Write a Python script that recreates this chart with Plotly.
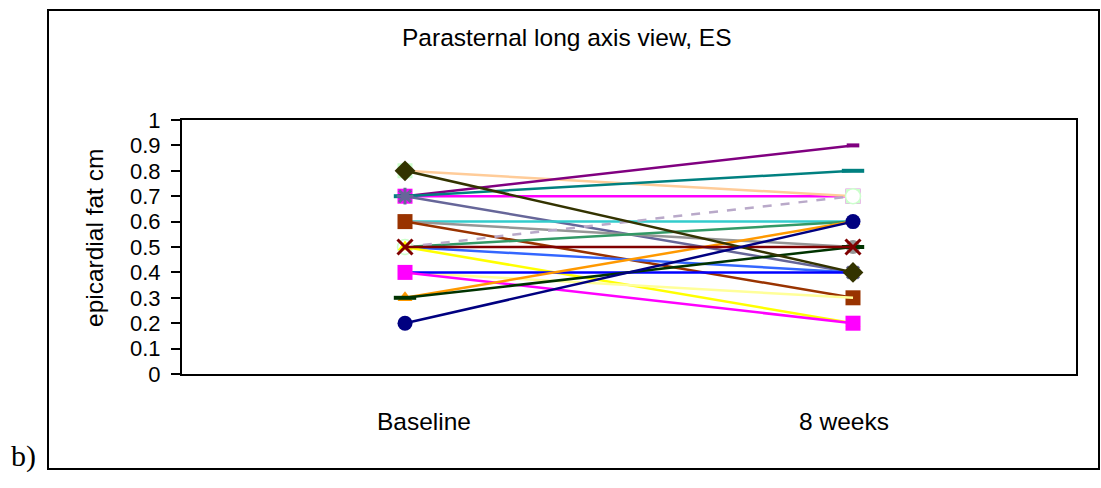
import plotly.graph_objects as go

# ---------------- data ----------------
categories = ["Baseline", "8 weeks"]

baseline = [0.7, 0.8, 0.7, 0.7, 0.7, 0.6, 0.6, 0.6, 0.5, 0.5,
            0.5, 0.5, 0.4, 0.4, 0.4, 0.3, 0.3, 0.5, 0.8, 0.2]
week8 = [0.7, 0.7, 0.9, 0.8, 0.4, 0.6, 0.5, 0.3, 0.6, 0.7,
         0.4, 0.2, 0.3, 0.4, 0.2, 0.6, 0.5, 0.5, 0.4, 0.6]
line_colors = ["#FF00FF", "#FFCC99", "#800080", "#008080", "#666699",
               "#33CCCC", "#969696", "#993300", "#339966", "#B9A9C9",
               "#3366FF", "#FFFF00", "#FFFF99", "#0000FF", "#FF00FF",
               "#FF9900", "#003300", "#800000", "#333300", "#000080"]
marker_colors = ["#FF00FF", "#CCFFCC", "#800080", "#008080", "#666699",
                 "#33CCCC", "#969696", "#993300", "#339966", "#FFFFFF",
                 "#3366FF", "#FFFF00", "#FFFF99", "#0000FF", "#FF00FF",
                 "#FF9900", "#003300", "#800000", "#333300", "#000080"]
symbols = ["square", "square", "line-ew", "line-ew", "asterisk-open",
           None, "circle", "square", None, "circle",
           None, "triangle-up", None, None, "square",
           "triangle-up", "line-ew", "x-thin-open", "diamond", "circle"]
marker_sizes = [15, 15, 9, 16, 14, 0, 14, 15, 0, 15,
                0, 13, 0, 0, 15, 13, 16, 15, 16, 15]
dashes = ["solid"] * 9 + ["dash"] + ["solid"] * 10

y_ticks = [i / 10 for i in range(11)]
y_tick_labels = ["0", "0.1", "0.2", "0.3", "0.4", "0.5", "0.6", "0.7", "0.8", "0.9", "1"]

title_text = "Parasternal long axis view, ES"
y_title = "epicardial fat cm"
panel_label = "b)"

# ---------------- figure ----------------
W, H = 1101, 488
L, R, T, B = 182, 1076, 120, 374   # plot area in px
MX0, MX1 = 405, 853                # category centres (marks)
LX0, LX1 = 424, 844                # category label centres

fig = go.Figure()
for i in range(len(baseline)):
    sym = symbols[i]
    mode = "lines" if sym is None else "lines+markers"
    mk = dict()
    if sym is not None:
        if sym in ("line-ew", "x-thin-open", "asterisk-open"):
            mk = dict(symbol=sym, size=marker_sizes[i],
                      line=dict(color=marker_colors[i], width=4 if sym == "line-ew" else 3))
        elif marker_colors[i] == "#FFFFFF":
            mk = dict(symbol=sym, size=marker_sizes[i], color="#FFFFFF",
                      line=dict(color="#CCFFCC", width=1.5))
        else:
            mk = dict(symbol=sym, size=marker_sizes[i], color=marker_colors[i],
                      line=dict(width=0))
    fig.add_trace(go.Scatter(
        x=categories, y=[baseline[i], week8[i]], mode=mode,
        line=dict(color=line_colors[i], width=2.5, dash=dashes[i]),
        marker=mk, showlegend=False, hoverinfo="skip"))

# invisible trace carrying the category labels axis
fig.add_trace(go.Scatter(x=categories, y=[None, None], xaxis="x2", mode="markers",
                         showlegend=False, hoverinfo="skip"))

font = "Arial, Liberation Sans, sans-serif"


def px_x(p):
    return (p - L) / (R - L)


def px_y(p):
    return (B - p) / (B - T)


def cat_range(c0, c1):
    per = c1 - c0
    return [-(c0 - L) / per, 1 + (R - c1) / per]


fig.update_layout(
    width=W, height=H,
    margin=dict(l=L, r=W - R, t=T, b=H - B, pad=0),
    paper_bgcolor="white", plot_bgcolor="white",
    font=dict(family=font, size=22, color="black"),
    xaxis=dict(type="category", categoryorder="array", categoryarray=categories,
               range=cat_range(MX0, MX1), showgrid=False, zeroline=False,
               showline=True, linecolor="black", linewidth=2, mirror=True,
               ticks="", showticklabels=False),
    xaxis2=dict(type="category", categoryorder="array", categoryarray=categories,
                range=cat_range(LX0, LX1), overlaying="x", anchor="y", side="bottom",
                showgrid=False, zeroline=False, showline=False, ticks="",
                tickfont=dict(size=24.5), ticklabelstandoff=30),
    yaxis=dict(range=[0, 1], tickvals=y_ticks, ticktext=y_tick_labels,
               showgrid=False, zeroline=False, showline=True, linecolor="black",
               linewidth=2, mirror=True, ticks="outside", ticklen=9,
               tickwidth=2, tickcolor="black", tickfont=dict(size=22),
               ticklabelstandoff=6),
    shapes=[dict(type="rect", xref="paper", yref="paper",
                 x0=px_x(48), x1=px_x(1099), y0=px_y(469), y1=px_y(10),
                 line=dict(color="black", width=2), fillcolor="rgba(0,0,0,0)")],
    annotations=[
        dict(text=title_text, xref="paper", yref="paper", x=px_x(567), y=px_y(38),
             xanchor="center", yanchor="middle", showarrow=False,
             font=dict(size=24.5, family=font)),
        dict(text=y_title, xref="paper", yref="paper", x=px_x(94), y=px_y(238),
             xanchor="center", yanchor="middle", textangle=-90, showarrow=False,
             font=dict(size=24.5, family=font)),
        dict(text=panel_label, xref="paper", yref="paper", x=px_x(23), y=px_y(456),
             xanchor="center", yanchor="middle", showarrow=False,
             font=dict(size=30, family="Times New Roman, Liberation Serif, serif")),
    ],
)

fig.write_html("out.html")
